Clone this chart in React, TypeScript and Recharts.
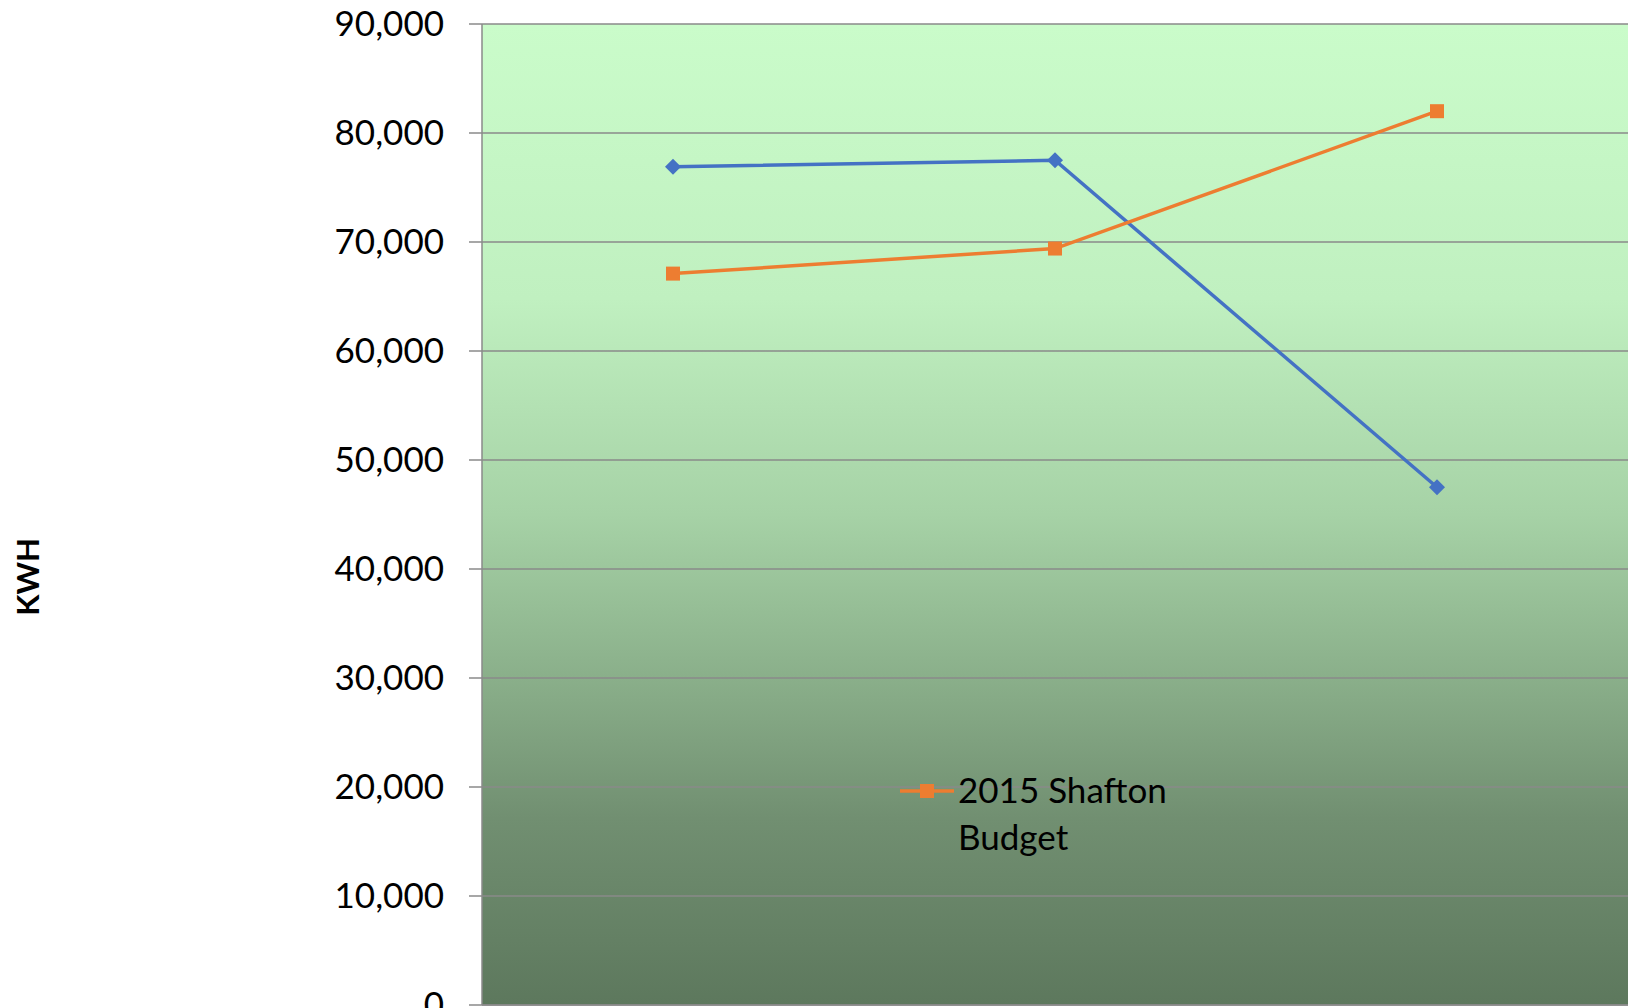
import React from 'react';
import { LineChart, Line, XAxis, YAxis, CartesianGrid } from 'recharts';

// three periods, labels sit below the visible area
const categories = ['1', '2', '3'];
const actualKwh = [76900, 77500, 47500];
const budgetKwh = [67100, 69400, 82000];
const budgetName = '2015 Shafton Budget';
const yTicks = [0, 10000, 20000, 30000, 40000, 50000, 60000, 70000, 80000, 90000];
const xBoundaries = [0, 1, 2, 3];

const data = categories.map((c, i) => ({
    name: c,
    pos: i + 0.5,
    actual: actualKwh[i],
    budget: budgetKwh[i],
}));

const BLUE = '#4472C4';
const ORANGE = '#ED7D31';
const FONT = 'Lato, "Open Sans", sans-serif';

const Diamond = (props: any) => {
    const { cx, cy } = props;
    if (cx == null || cy == null) return null;
    const r = 8;
    return <polygon points={`${cx},${cy - r} ${cx + r},${cy} ${cx},${cy + r} ${cx - r},${cy}`} fill={BLUE} />;
};

const Square = (props: any) => {
    const { cx, cy } = props;
    if (cx == null || cy == null) return null;
    return <rect x={cx - 7} y={cy - 7} width={14} height={14} fill={ORANGE} />;
};

const LegendBox = () => (
    <div
        style={{
            position: 'absolute',
            left: 898,
            top: 770,
            display: 'flex',
            alignItems: 'flex-start',
            fontFamily: FONT,
            fontSize: 35,
            color: '#000',
        }}
    >
        <svg width={60} height={40} style={{ marginTop: 2 }}>
            <line x1={2} y1={19} x2={56} y2={19} stroke={ORANGE} strokeWidth={3.5} />
            <rect x={22} y={12} width={14} height={14} fill={ORANGE} />
        </svg>
        <div style={{ lineHeight: '47px', marginTop: -4, width: 230 }}>{budgetName}</div>
    </div>
);

const AxisTitle = () => (
    <text
        x={27}
        y={577}
        transform="rotate(-90 27 577)"
        textAnchor="middle"
        dominantBaseline="central"
        fontFamily={FONT}
        fontWeight="bold"
        fontSize={31}
        fill="#000"
    >
        KWH
    </text>
);

export default function App() {
    return (
        <div style={{ position: 'fixed', left: 0, top: 0, width: 1629, height: 1008, overflow: 'hidden', background: '#fff' }}>
            <LineChart width={1629} height={1040} data={data} margin={{ top: 24, right: 1, bottom: 0, left: 0 }}>
                <defs>
                    <linearGradient id="plotBg" x1="0" y1="0" x2="0" y2="1">
                        <stop offset="0%" stopColor="#CAFCCA" />
                        <stop offset="28%" stopColor="#C0F0C0" />
                        <stop offset="50%" stopColor="#A6D2A6" />
                        <stop offset="69%" stopColor="#86AA86" />
                        <stop offset="81%" stopColor="#718F71" />
                        <stop offset="100%" stopColor="#5D785D" />
                    </linearGradient>
                </defs>
                <CartesianGrid vertical={false} stroke="#8a8a8a" strokeWidth={1.5} fill="url(#plotBg)" fillOpacity={1} />
                <XAxis
                    type="number"
                    dataKey="pos"
                    domain={[0, 3]}
                    ticks={xBoundaries}
                    height={35}
                    tick={false}
                    tickSize={6}
                    stroke="#8a8a8a"
                    strokeWidth={1.5}
                />
                <YAxis
                    width={482}
                    domain={[0, 90000]}
                    ticks={yTicks}
                    interval={0}
                    tickSize={13}
                    tickMargin={25}
                    stroke="#8a8a8a"
                    strokeWidth={1.5}
                    tick={{ fill: '#000', fontSize: 35, fontFamily: FONT }}
                    tickFormatter={(v: number) => v.toLocaleString('en-US')}
                    label={<AxisTitle />}
                />
                <Line
                    dataKey="actual"
                    name="Actual"
                    stroke={BLUE}
                    strokeWidth={3.5}
                    dot={<Diamond />}
                    activeDot={false}
                    isAnimationActive={false}
                />
                <Line
                    dataKey="budget"
                    name={budgetName}
                    stroke={ORANGE}
                    strokeWidth={3.5}
                    dot={<Square />}
                    activeDot={false}
                    isAnimationActive={false}
                />
            </LineChart>
            <LegendBox />
        </div>
    );
}
